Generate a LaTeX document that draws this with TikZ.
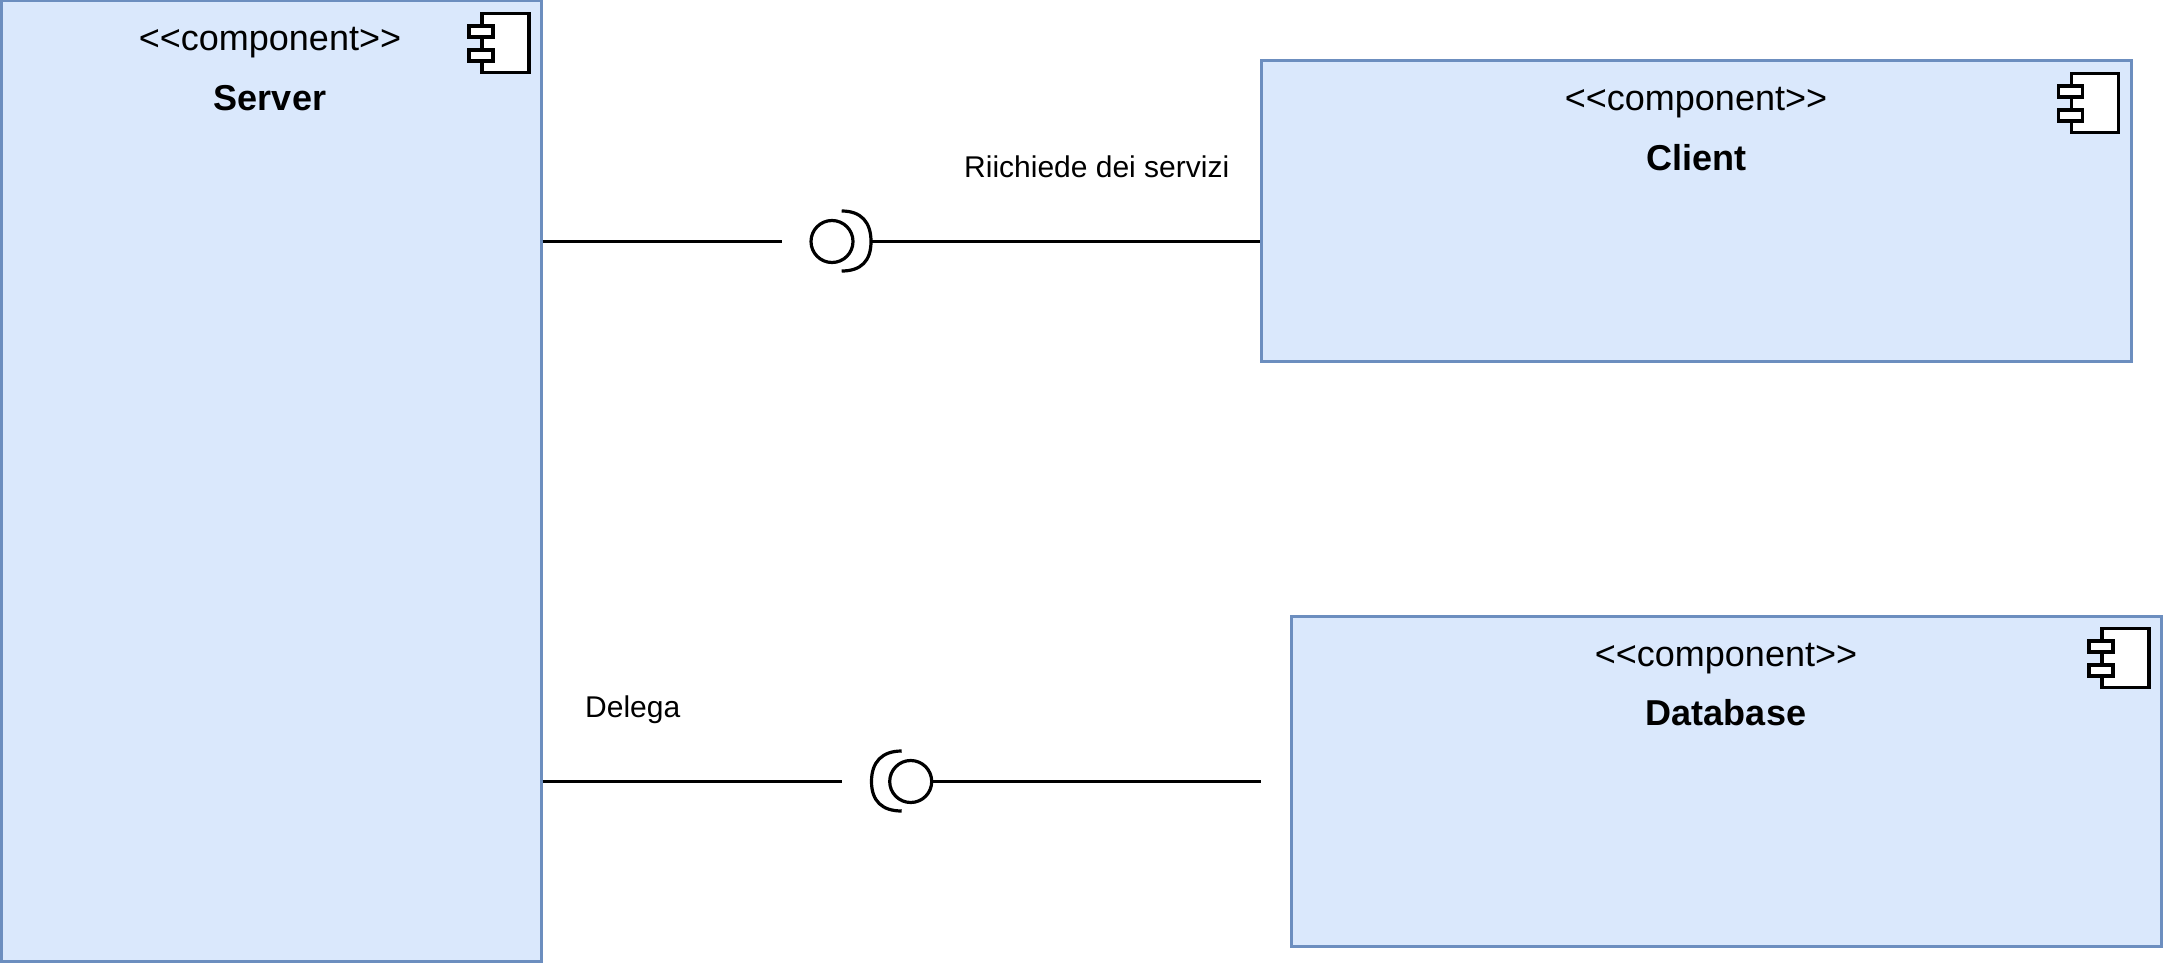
\documentclass[tikz,border=0pt]{standalone}
\usepackage{fontspec}
\setmainfont{Liberation Sans}
\usetikzlibrary{positioning}
\tikzset{
  compbox/.style={draw=cvbox,fill=cfbox,line width=3pt,shape=rectangle,inner sep=0pt},
  iconbody/.style={draw=black,fill=white,line width=3.2pt,shape=rectangle,inner sep=0pt,minimum width=47pt,minimum height=59.5pt},
  iconport/.style={draw=black,fill=white,line width=3.2pt,shape=rectangle,inner sep=0pt,minimum width=24pt,minimum height=11pt},
  stereo/.style={anchor=base,inner sep=0pt,font=\fontsize{36pt}{40pt}\selectfont},
  compname/.style={anchor=base,inner sep=0pt,font=\fontsize{36pt}{40pt}\selectfont\bfseries},
  note/.style={anchor=base west,inner sep=0pt,font=\fontsize{30pt}{34pt}\selectfont},
  ball/.style={draw=black,line width=3.2pt,shape=circle,inner sep=0pt,minimum size=42pt},
  wire/.style={draw=black,line width=3.2pt},
}
\begin{document}
\begin{tikzpicture}[x=1pt,y=-1pt]
%
\useasboundingbox (0,0) rectangle (2163,963);
%
\definecolor{cfbox}{rgb}{0.855,0.91,0.988}
\definecolor{cvbox}{rgb}{0.424,0.557,0.749}
%
\node[compbox,minimum width=540pt,minimum height=960pt] (server) at (271,481) {};
\node[compbox,minimum width=870pt,minimum height=300pt] (client) at (1696,211) {};
\node[compbox,minimum width=870pt,minimum height=330pt] (database) at (1726,781) {};
%
\node[stereo] (serverstereo) at (270,51) {<{}<component>{}>};
\node[compname] (servername) at (270,111) {Server};
\node[stereo] (clientstereo) at (1696,111) {<{}<component>{}>};
\node[compname] (clientname) at (1696,171) {Client};
\node[stereo] (databasestereo) at (1726,666) {<{}<component>{}>};
\node[compname] (databasename) at (1726,725.5) {Database};
%
\node[iconbody] (servericon) at (505.5,43) {};
\node[iconport] (serverporta) at (481,31.5) {};
\node[iconport] (serverportb) at (481,55.5) {};
\node[iconbody] (clienticon) at (2095,103) {};
\node[iconport] (clientporta) at (2070.5,91.5) {};
\node[iconport] (clientportb) at (2070.5,115.5) {};
\node[iconbody] (databaseicon) at (2125.5,658) {};
\node[iconport] (databaseporta) at (2101,646.5) {};
\node[iconport] (databaseportb) at (2101,670.5) {};
%
\node[ball] (balla) at (832,241.5) {};
\node[ball] (ballb) at (910.7,781.5) {};
\coordinate (socketa) at (871,241.5);
\coordinate (stuba) at (782,241.5);
\coordinate (stubb) at (842,781.5);
\coordinate (stubc) at (1261,781.5);
%
\draw[wire] (841.7,211) .. controls (861,211) and (871,222) .. (socketa) .. controls (871,261) and (861,271) .. (841.7,271);
\draw[wire] (901.7,751) .. controls (882,751) and (871.5,762) .. (871.5,781.5) .. controls (871.5,801) and (882,811) .. (901.7,811);
%
\draw[wire] (stuba -| server.east) -- (stuba);
\draw[wire] (socketa) -- (socketa -| client.west);
\draw[wire] (stubb -| server.east) -- (stubb);
\draw[wire] (ballb) -- (stubc);
%
\node[note] (servicelabel) at (964,177) {Riichiede dei servizi};
\node[note] (delegatelabel) at (585,717) {Delega};
%
\end{tikzpicture}
\end{document}
